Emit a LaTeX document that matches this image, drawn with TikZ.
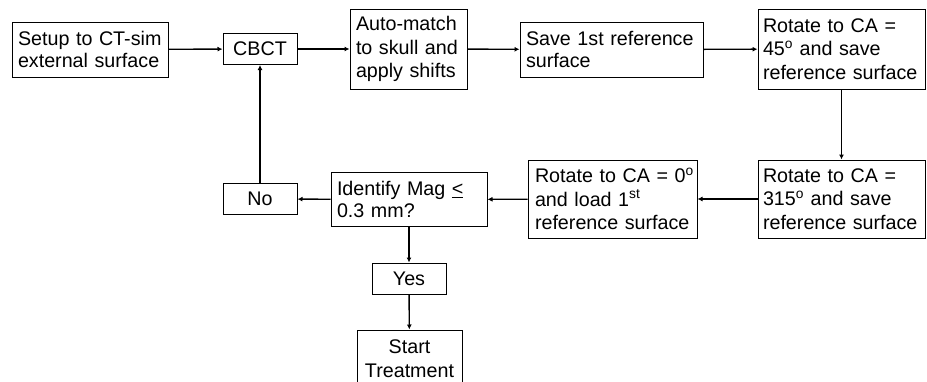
\documentclass[tikz,border=0pt]{standalone}
\usepackage{fontspec}
\setmainfont{Liberation Sans}
\usetikzlibrary{arrows.meta}
\begin{document}
\begin{tikzpicture}[x=1pt,y=1pt,
  box/.style={draw, line width=1pt, inner xsep=6pt, inner ysep=0pt, align=left,
    font=\fontsize{19.7}{22}\selectfont},
  box3/.style={box, font=\fontsize{19.7}{23.5}\selectfont},
  cbox/.style={draw, line width=1pt, inner sep=0pt, align=center,
    font=\fontsize{19.7}{24}\selectfont},
  arr/.style={line width=1.4pt, -{Latex[length=5pt,width=5pt]}}]
\useasboundingbox (0,0) rectangle (927,-381);
\node[box, text width=144pt, minimum height=55pt] (A) at (90,-49.5) {Setup to CT-sim\\external surface};
\node[cbox, minimum width=74pt, minimum height=31pt] (C) at (260,-49) {CBCT};
\node[box3, text width=105pt, minimum height=80pt] (M) at (408.5,-49) {Auto-match\\to skull and\\apply shifts};
\node[box, text width=171pt, minimum height=55pt] (S) at (611.5,-49.5) {Save 1st reference\\surface};
\node[box3, text width=157pt, inner xsep=5pt, minimum height=80pt] (R45) at (841.5,-49) {Rotate to CA =\\45\textsuperscript{o} and save\\reference surface};
\node[box3, text width=157pt, inner xsep=5pt, minimum height=78pt] (R315) at (841.5,-199) {Rotate to CA =\\315\textsuperscript{o} and save\\reference surface};
\node[box3, text width=165pt, inner xsep=2pt, minimum height=78pt] (R0) at (612.5,-199) {\hspace*{5pt}Rotate to CA = 0\textsuperscript{o}\\\hspace*{5pt}and load 1\textsuperscript{st}\\\hspace*{5pt}reference surface};
\node[box, text width=144pt, minimum height=54pt] (I) at (409,-199.5) {Identify Mag \underline{<}\\0.3 mm?};
\node[cbox, minimum width=74pt, minimum height=31pt] (N) at (260,-199) {No};
\node[cbox, minimum width=74pt, minimum height=31pt] (Y) at (409,-278.5) {Yes};
\node[cbox, minimum width=105pt, minimum height=58pt] (T) at (409.5,-359) {Start\\Treatment};
\draw[arr] (A) -- (C);
\draw[arr] (C) -- (M);
\draw[arr] (M) -- (S);
\draw[arr] (S) -- (R45);
\draw[arr] (R45) -- (R315);
\draw[arr] (R315) -- (R0);
\draw[arr] (R0) -- (I);
\draw[arr] (I) -- (N);
\draw[arr] (N) -- (C);
\draw[arr] (I) -- (Y);
\draw[arr] (Y) -- (T);
\end{tikzpicture}
\end{document}
